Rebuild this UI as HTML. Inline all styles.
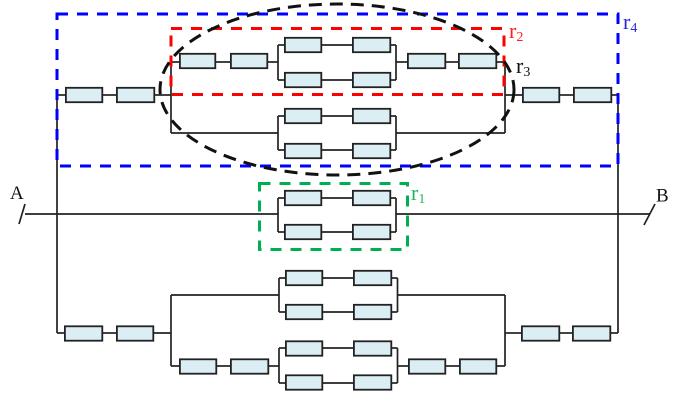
<!DOCTYPE html>
<html><head><meta charset="utf-8"><style>
html,body{margin:0;padding:0;background:#fff;}
svg{display:block;}
text{font-family:"Liberation Serif",serif;}
</style></head><body>
<svg width="679" height="402" viewBox="0 0 679 402" xmlns="http://www.w3.org/2000/svg">
<g stroke="#222" stroke-width="1.7" fill="none">
<!-- top section -->
<line x1="57" y1="95" x2="57" y2="333"/>
<line x1="57" y1="95" x2="66" y2="95"/>
<line x1="103" y1="95" x2="116" y2="95"/>
<line x1="155" y1="95" x2="171" y2="95"/>
<line x1="171" y1="62" x2="171" y2="133"/>
<line x1="171" y1="62" x2="179" y2="62"/>
<line x1="216" y1="62" x2="230" y2="62"/>
<line x1="268" y1="62" x2="278" y2="62"/>
<line x1="278" y1="45" x2="278" y2="80"/>
<line x1="278" y1="45" x2="284" y2="45"/>
<line x1="278" y1="80" x2="284" y2="80"/>
<line x1="322" y1="45" x2="352" y2="45"/>
<line x1="322" y1="80" x2="352" y2="80"/>
<line x1="391" y1="45" x2="396" y2="45"/>
<line x1="391" y1="80" x2="396" y2="80"/>
<line x1="396" y1="45" x2="396" y2="80"/>
<line x1="396" y1="62" x2="407" y2="62"/>
<line x1="446" y1="62" x2="458" y2="62"/>
<line x1="497" y1="62" x2="505" y2="62"/>
<line x1="505" y1="62" x2="505" y2="133"/>
<line x1="505" y1="95" x2="522" y2="95"/>
<line x1="560" y1="95" x2="573" y2="95"/>
<line x1="612" y1="95" x2="618" y2="95"/>
<line x1="618" y1="95" x2="618" y2="333"/>
<line x1="171" y1="133" x2="278" y2="133"/>
<line x1="278" y1="116" x2="278" y2="150"/>
<line x1="278" y1="116" x2="284" y2="116"/>
<line x1="278" y1="150" x2="284" y2="150"/>
<line x1="322" y1="116" x2="352" y2="116"/>
<line x1="322" y1="150" x2="352" y2="150"/>
<line x1="391" y1="116" x2="396" y2="116"/>
<line x1="391" y1="150" x2="396" y2="150"/>
<line x1="396" y1="116" x2="396" y2="150"/>
<line x1="396" y1="133" x2="505" y2="133"/>
<!-- middle -->
<line x1="25" y1="214" x2="278" y2="214"/>
<line x1="19" y1="224" x2="25" y2="204"/>
<line x1="396" y1="214" x2="650" y2="214"/>
<line x1="644" y1="225" x2="655" y2="204"/>
<line x1="278" y1="198" x2="278" y2="232"/>
<line x1="278" y1="198" x2="284" y2="198"/>
<line x1="278" y1="232" x2="284" y2="232"/>
<line x1="322" y1="198" x2="352" y2="198"/>
<line x1="322" y1="232" x2="352" y2="232"/>
<line x1="391" y1="198" x2="396" y2="198"/>
<line x1="391" y1="232" x2="396" y2="232"/>
<line x1="396" y1="198" x2="396" y2="232"/>
<!-- bottom -->
<line x1="57" y1="333" x2="64" y2="333"/>
<line x1="103" y1="333" x2="116" y2="333"/>
<line x1="154" y1="333" x2="171" y2="333"/>
<line x1="171" y1="295" x2="171" y2="366"/>
<line x1="171" y1="295" x2="279" y2="295"/>
<line x1="279" y1="278" x2="279" y2="312"/>
<line x1="279" y1="278" x2="285" y2="278"/>
<line x1="279" y1="312" x2="285" y2="312"/>
<line x1="323" y1="278" x2="353" y2="278"/>
<line x1="323" y1="312" x2="353" y2="312"/>
<line x1="392" y1="278" x2="397.5" y2="278"/>
<line x1="392" y1="312" x2="397.5" y2="312"/>
<line x1="397.5" y1="278" x2="397.5" y2="312"/>
<line x1="397.5" y1="295" x2="505" y2="295"/>
<line x1="171" y1="366" x2="179" y2="366"/>
<line x1="217" y1="366" x2="230" y2="366"/>
<line x1="269" y1="366" x2="279" y2="366"/>
<line x1="279" y1="348" x2="279" y2="383"/>
<line x1="279" y1="348" x2="285" y2="348"/>
<line x1="279" y1="383" x2="285" y2="383"/>
<line x1="323" y1="348" x2="353" y2="348"/>
<line x1="323" y1="383" x2="353" y2="383"/>
<line x1="392" y1="348" x2="397.5" y2="348"/>
<line x1="392" y1="383" x2="397.5" y2="383"/>
<line x1="397.5" y1="348" x2="397.5" y2="383"/>
<line x1="397.5" y1="366" x2="408" y2="366"/>
<line x1="446" y1="366" x2="459" y2="366"/>
<line x1="497" y1="366" x2="505" y2="366"/>
<line x1="505" y1="295" x2="505" y2="366"/>
<line x1="505" y1="333" x2="521" y2="333"/>
<line x1="560" y1="333" x2="572" y2="333"/>
<line x1="611" y1="333" x2="618" y2="333"/>
</g>
<g fill="#daeef3" stroke="#222" stroke-width="1.8">
<!-- top -->
<rect x="65.9" y="87.8" width="36.4" height="14.4"/>
<rect x="116.9" y="87.8" width="37.4" height="14.4"/>
<rect x="179.9" y="53.8" width="35.4" height="14.4"/>
<rect x="230.9" y="53.8" width="36.4" height="14.4"/>
<rect x="284.9" y="37.8" width="36.4" height="14.4"/>
<rect x="352.9" y="37.8" width="37.4" height="14.4"/>
<rect x="284.9" y="72.8" width="36.4" height="14.4"/>
<rect x="352.9" y="72.8" width="37.4" height="14.4"/>
<rect x="407.9" y="53.8" width="37.4" height="14.4"/>
<rect x="458.9" y="53.8" width="37.4" height="14.4"/>
<rect x="284.9" y="108.8" width="36.4" height="14.4"/>
<rect x="352.9" y="108.8" width="37.4" height="14.4"/>
<rect x="284.9" y="143.8" width="36.4" height="14.4"/>
<rect x="352.9" y="143.8" width="37.4" height="14.4"/>
<rect x="522.9" y="87.8" width="36.4" height="14.4"/>
<rect x="573.9" y="87.8" width="37.4" height="14.4"/>
<!-- middle -->
<rect x="284.9" y="190.8" width="36.4" height="14.4"/>
<rect x="352.9" y="190.8" width="37.4" height="14.4"/>
<rect x="284.9" y="224.8" width="36.4" height="14.4"/>
<rect x="352.9" y="224.8" width="37.4" height="14.4"/>
<!-- bottom -->
<rect x="64.9" y="326.3" width="37.4" height="14.4"/>
<rect x="116.9" y="326.3" width="36.4" height="14.4"/>
<rect x="285.9" y="270.8" width="36.4" height="14.4"/>
<rect x="353.9" y="270.8" width="37.4" height="14.4"/>
<rect x="285.9" y="304.8" width="36.4" height="14.4"/>
<rect x="353.9" y="304.8" width="37.4" height="14.4"/>
<rect x="179.9" y="359.3" width="36.4" height="14.4"/>
<rect x="230.9" y="359.3" width="37.4" height="14.4"/>
<rect x="285.9" y="341.3" width="36.4" height="14.4"/>
<rect x="353.9" y="341.3" width="37.4" height="14.4"/>
<rect x="285.9" y="375.3" width="36.4" height="14.4"/>
<rect x="353.9" y="375.3" width="37.4" height="14.4"/>
<rect x="408.9" y="359.3" width="36.4" height="14.4"/>
<rect x="459.9" y="359.3" width="36.4" height="14.4"/>
<rect x="521.9" y="326.3" width="37.4" height="14.4"/>
<rect x="572.9" y="326.3" width="37.4" height="14.4"/>
</g>
<!-- dashed regions -->
<rect x="57" y="14" width="561" height="152" fill="none" stroke="#0000ff" stroke-width="3" stroke-dasharray="11 9"/>
<rect x="171" y="28.5" width="333" height="66" fill="none" stroke="#ff0000" stroke-width="3" stroke-dasharray="11 9"/>
<rect x="259.5" y="183.5" width="148" height="66" fill="none" stroke="#00b050" stroke-width="3" stroke-dasharray="11 9"/>
<ellipse cx="337" cy="89.5" rx="177" ry="85.5" fill="none" stroke="#111" stroke-width="3" stroke-dasharray="13 8"/>
<!-- labels -->
<text x="10" y="199" font-size="19" fill="#111">A</text>
<text x="656" y="201.5" font-size="19" fill="#111">B</text>
<text x="623" y="29" font-size="22" fill="#2a2ad8">r<tspan font-size="14" dy="3">4</tspan></text>
<text x="509" y="38" font-size="22" fill="#ff2020">r<tspan font-size="14" dy="3">2</tspan></text>
<text x="516" y="73" font-size="22" fill="#111">r<tspan font-size="14" dy="3">3</tspan></text>
<text x="411" y="200" font-size="22" fill="#1fb860">r<tspan font-size="14" dy="3">1</tspan></text>
</svg>
</body></html>
